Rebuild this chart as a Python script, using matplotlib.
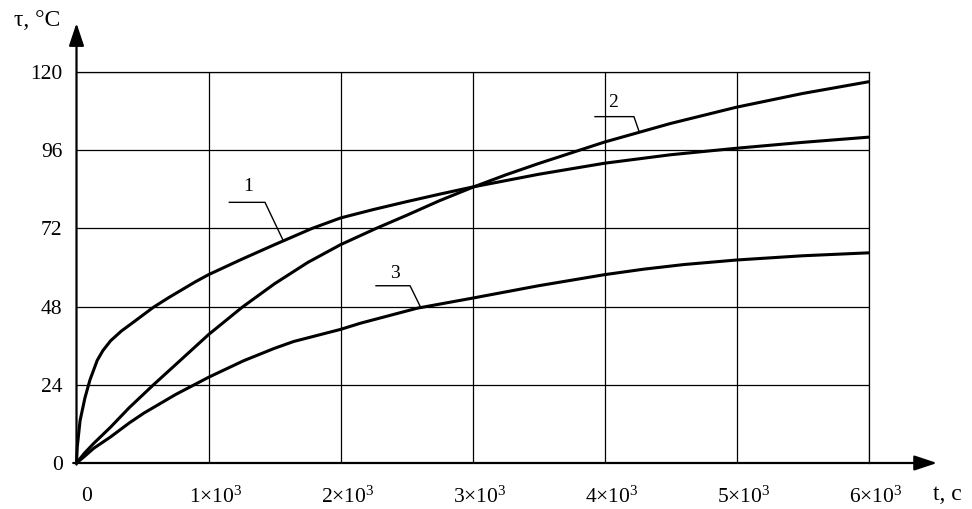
import numpy as np
import matplotlib
matplotlib.use("Agg")
import matplotlib.pyplot as plt
from matplotlib.transforms import ScaledTranslation

plt.rcParams["font.family"] = ["Liberation Serif", "DejaVu Serif"]
plt.rcParams["mathtext.fontset"] = "custom"
plt.rcParams["mathtext.rm"] = "Liberation Serif"
plt.rcParams["mathtext.it"] = "Liberation Serif:italic"

# --- data: temperature rise tau (°C) versus time t (s) ---
t1 = [0, 6, 27, 64, 102, 157, 200, 258, 340, 434, 500, 583, 700, 800, 900,
      1000, 1250, 1500, 1785, 2000, 2250, 2500, 2750, 3000, 3500, 4000,
      4500, 5000, 5500, 6000]
tau1 = [0, 5, 13, 20, 25.5, 31.5, 34.5, 37.5, 40.5, 43.3, 45.3, 47.8, 50.8, 53.2, 55.6,
        57.8, 62.5, 67, 72, 75.2, 77.8, 80.2, 82.5, 84.7, 88.6, 92,
        94.6, 96.6, 98.4, 100]

t2 = [0, 60, 130, 258, 400, 583, 800, 1000, 1255, 1500, 1750, 2000, 2270,
      2500, 2750, 3000, 3250, 3500, 3750, 4000, 4500, 5000, 5500, 6000]
tau2 = [0, 3, 6, 11, 17, 24, 32, 39.4, 47.8, 55, 61.5, 67, 72,
        76, 80.5, 84.6, 88.4, 91.9, 95.2, 98.5, 104.2, 109.2, 113.4, 117]

t3 = [0, 60, 130, 258, 400, 510, 750, 939, 1000, 1267, 1500, 1646, 2000,
      2151, 2580, 3000, 3500, 4000, 4300, 4600, 5000, 5500, 6000]
tau3 = [0, 2, 4.5, 8, 12.3, 15.3, 21, 25, 26.3, 31.4, 35.2, 37.3, 41.0,
        42.9, 47.5, 50.6, 54.4, 57.8, 59.5, 60.9, 62.3, 63.6, 64.5]

x_ticks = [0, 1000, 2000, 3000, 4000, 5000, 6000]
x_labels = ["0", r"$\mathregular{1{\times}10^{3}}$", r"$\mathregular{2{\times}10^{3}}$",
            r"$\mathregular{3{\times}10^{3}}$", r"$\mathregular{4{\times}10^{3}}$",
            r"$\mathregular{5{\times}10^{3}}$", r"$\mathregular{6{\times}10^{3}}$"]
y_ticks = [0, 24, 48, 72, 96, 120]
y_labels = ["0", "24", "48", "72", "96", "120"]

curve_names = ["1", "2", "3"]
# label text position and leader polyline (last point sits on the curve)
label_pos = [(1297, 85.0), (4064, 110.5), (2413, 58.3)]
leader_t = [[1158, 1428, 1567], [3928, 4223, 4264], [2269, 2527, 2608]]
leader_tau_knee = [80.0, 106.3, 54.4]

# --- figure ---
W, H = 972, 509
fig = plt.figure(figsize=(W / 100, H / 100), dpi=100)
x0_px, x6_px, y0_px, y120_px = 76.5, 868.5, 463, 72
ax = fig.add_axes([x0_px / W, 1 - y0_px / H, (x6_px - x0_px) / W, (y0_px - y120_px) / H])
ax.set_xlim(0, 6000)
ax.set_ylim(0, 120)

ax.set_xticks(x_ticks[1:])
ax.set_yticks(y_ticks)
ax.grid(True, color="black", lw=0.9)
ax.tick_params(length=0)
ax.set_xticklabels([])
ax.set_yticklabels(y_labels, fontsize=15.5)
for lab in ax.get_yticklabels():
    lab.set_transform(lab.get_transform() + ScaledTranslation(0, -3 / 72, fig.dpi_scale_trans))
ax.tick_params(axis="y", pad=10)

for s in ["top", "right"]:
    ax.spines[s].set_linewidth(0.9)
for s in ["left", "bottom"]:
    ax.spines[s].set_visible(False)

# x tick labels, set slightly to the right of and below the grid lines
xoff = ScaledTranslation(7 / 100, -24 / 100, fig.dpi_scale_trans)
for xv, lab in zip(x_ticks, x_labels):
    extra = ScaledTranslation(3 / 100, 0, fig.dpi_scale_trans) if xv == 0 else ScaledTranslation(0, 0, fig.dpi_scale_trans)
    ax.text(xv, 0, lab, transform=ax.get_xaxis_transform() + xoff + extra,
            ha="center", va="top", fontsize=15.5)

# axes with arrows
arrow = dict(arrowstyle="-|>,head_length=0.6,head_width=0.2", lw=1.6, color="black",
             mutation_scale=23, shrinkA=0, shrinkB=0)
ax.annotate("", xy=(6519, 0), xytext=(-25, 0), arrowprops=arrow, annotation_clip=False)
ax.annotate("", xy=(0, 135), xytext=(0, -0.5), arrowprops=arrow, annotation_clip=False)

fig.text(933 / W, 1 - 495 / H, "t, c", ha="left", va="center", fontsize=17)
fig.text(37 / W, 1 - 20 / H, "τ, °C", ha="center", va="center", fontsize=17)

# curves
for t, tau in [(t1, tau1), (t2, tau2), (t3, tau3)]:
    ax.plot(t, tau, color="black", lw=2.2, solid_capstyle="round",
            solid_joinstyle="round", clip_on=False)

# curve numbers with leader lines
for name, pos, lt, knee, (t, tau) in zip(curve_names, label_pos, leader_t, leader_tau_knee,
                                         [(t1, tau1), (t2, tau2), (t3, tau3)]):
    end_tau = float(np.interp(lt[2], t, tau))
    ax.plot(lt, [knee, knee, end_tau], color="black", lw=1.0)
    ax.text(pos[0], pos[1], name, ha="center", va="center", fontsize=14)

fig.savefig("out.png", dpi=100)
